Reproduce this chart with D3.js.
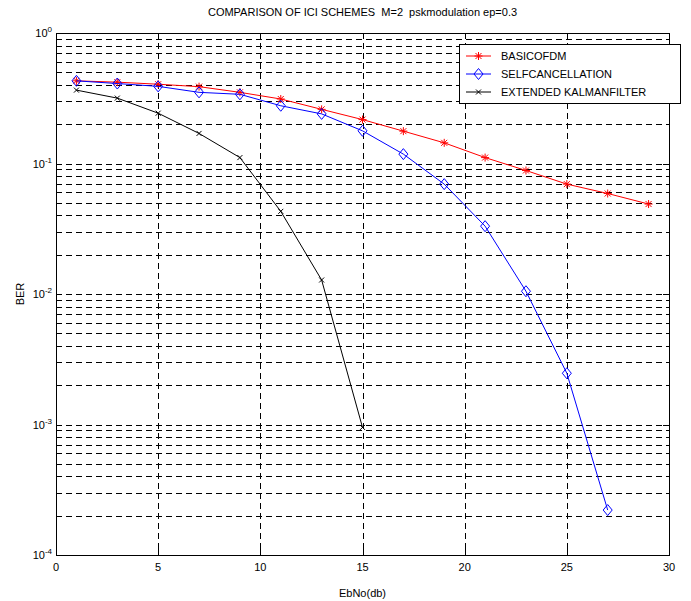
<!DOCTYPE html>
<html>
<head>
<meta charset="utf-8">
<script src="https://cdn.jsdelivr.net/npm/d3@7"></script>
<style>
  body { margin: 0; background: #fff; }
  text { font-family: "Liberation Sans", Arial, sans-serif; fill: #000; }
</style>
</head>
<body>
<svg id="chart" width="691" height="601"></svg>
<script>
// values
var ebno_basic = [1, 3, 5, 7, 9, 11, 13, 15, 17, 19, 21, 23, 25, 27, 29];
var ber_basic = [0.43, 0.42, 0.405, 0.388, 0.351, 0.312, 0.26, 0.217, 0.177, 0.144, 0.111, 0.0884, 0.0695, 0.0589, 0.0489];
var ebno_self = [1, 3, 5, 7, 9, 11, 13, 15, 17, 19, 21, 23, 25, 27];
var ber_self = [0.43, 0.41, 0.39, 0.351, 0.339, 0.277, 0.24, 0.178, 0.118, 0.0695, 0.0331, 0.0105, 0.00247, 0.000221];
var ebno_ekf = [1, 3, 5, 7, 9, 11, 13, 15];
var ber_ekf = [0.365, 0.317, 0.243, 0.170, 0.111, 0.043, 0.0128, 0.00095];
var xTicks = [0, 5, 10, 15, 20, 25, 30];
var yDecades = [1e-4, 1e-3, 1e-2, 1e-1, 1];
var legendNames = ["BASICOFDM", "SELFCANCELLATION", "EXTENDED KALMANFILTER"];

var L = 56, R = 669, T = 33, B = 555;
var svg = d3.select("#chart");
var x = d3.scaleLinear().domain([0, 30]).range([L, R]);
var y = d3.scaleLog().domain([1e-4, 1]).range([B, T]);

// grid
var minors = [];
yDecades.slice(0, 4).forEach(function(d) {
  for (var k = 1; k <= 9; k++) minors.push(d * k);
});
minors.push(1);
var grid = svg.append("g").attr("stroke", "#000").attr("stroke-width", 1)
  .attr("stroke-dasharray", "6,4");
grid.selectAll(".hg").data(minors.filter(function(v) { return v > 1e-4 && v < 1; }))
  .enter().append("line")
  .attr("x1", L).attr("x2", R)
  .attr("y1", function(d) { return Math.round(y(d)) + 0.5; })
  .attr("y2", function(d) { return Math.round(y(d)) + 0.5; });
grid.selectAll(".vg").data(xTicks.slice(1, -1))
  .enter().append("line")
  .attr("y1", T).attr("y2", B)
  .attr("x1", function(d) { return Math.round(x(d)) + 0.5; })
  .attr("x2", function(d) { return Math.round(x(d)) + 0.5; });

// ticks
var tk = svg.append("g").attr("stroke", "#000").attr("stroke-width", 1);
xTicks.forEach(function(d) {
  var px = Math.round(x(d)) + 0.5;
  tk.append("line").attr("x1", px).attr("x2", px).attr("y1", B).attr("y2", B - 6);
  tk.append("line").attr("x1", px).attr("x2", px).attr("y1", T).attr("y2", T + 6);
});
minors.forEach(function(d) {
  var py = Math.round(y(d)) + 0.5;
  var len = yDecades.indexOf(d) >= 0 ? 6 : 3;
  tk.append("line").attr("x1", L).attr("x2", L + len).attr("y1", py).attr("y2", py);
  tk.append("line").attr("x1", R).attr("x2", R - len).attr("y1", py).attr("y2", py);
});

// axes box
svg.append("rect").attr("x", L + 0.5).attr("y", T + 0.5)
  .attr("width", R - L).attr("height", B - T)
  .attr("fill", "none").attr("stroke", "#000").attr("stroke-width", 1);

// tick labels
svg.selectAll(".xl").data(xTicks).enter().append("text")
  .attr("x", function(d) { return x(d); }).attr("y", 571)
  .attr("text-anchor", "middle").style("font-size", "11px")
  .text(function(d) { return d; });
var yl = svg.selectAll(".yl").data(yDecades).enter().append("text")
  .attr("x", 52).attr("y", function(d) { return y(d) + 4; })
  .attr("text-anchor", "end").style("font-size", "11px");
yl.append("tspan").text("10");
yl.append("tspan").attr("dy", -5).style("font-size", "8px")
  .text(function(d) { var e = Math.round(Math.log10(d)); return e === 0 ? "0" : "-" + Math.abs(e); });

// labels
svg.append("text").attr("x", (L + R) / 2).attr("y", 16).attr("text-anchor", "middle")
  .style("font-size", "11px").text("COMPARISON OF ICI SCHEMES  M=2  pskmodulation ep=0.3")
  .attr("xml:space", "preserve");
svg.append("text").attr("x", (L + R) / 2).attr("y", 597).attr("text-anchor", "middle")
  .style("font-size", "11px").text("EbNo(db)");
svg.append("text").attr("transform", "translate(24," + (T + B) / 2 + ") rotate(-90)")
  .attr("text-anchor", "middle").style("font-size", "11px").text("BER");

// series
var series = [
  { xs: ebno_basic, ys: ber_basic, color: "#ff0000", marker: "star" },
  { xs: ebno_self, ys: ber_self, color: "#0000ff", marker: "diamond" },
  { xs: ebno_ekf, ys: ber_ekf, color: "#000000", marker: "x" }
];
function drawMarker(g, type, cx, cy, color) {
  if (type === "star") {
    var s = 4;
    g.append("path").attr("d",
      "M" + (cx - s) + "," + cy + "H" + (cx + s) +
      "M" + cx + "," + (cy - s) + "V" + (cy + s) +
      "M" + (cx - 3) + "," + (cy - 3) + "L" + (cx + 3) + "," + (cy + 3) +
      "M" + (cx - 3) + "," + (cy + 3) + "L" + (cx + 3) + "," + (cy - 3))
      .attr("stroke", color).attr("fill", "none").attr("stroke-width", 1);
  } else if (type === "diamond") {
    g.append("path").attr("d",
      "M" + cx + "," + (cy - 5.5) + "L" + (cx + 4.5) + "," + cy + "L" + cx + "," + (cy + 5.5) +
      "L" + (cx - 4.5) + "," + cy + "Z")
      .attr("stroke", color).attr("fill", "none").attr("stroke-width", 1);
  } else {
    var t = 2.5;
    g.append("path").attr("d",
      "M" + (cx - t) + "," + (cy - t) + "L" + (cx + t) + "," + (cy + t) +
      "M" + (cx - t) + "," + (cy + t) + "L" + (cx + t) + "," + (cy - t))
      .attr("stroke", color).attr("fill", "none").attr("stroke-width", 1);
  }
}
var line = d3.line().x(function(d) { return x(d[0]); }).y(function(d) { return y(d[1]); });
series.forEach(function(s) {
  var pts = s.xs.map(function(v, i) { return [v, s.ys[i]]; });
  var g = svg.append("g");
  g.append("path").attr("d", line(pts)).attr("fill", "none")
    .attr("stroke", s.color).attr("stroke-width", 1);
  pts.forEach(function(p) { drawMarker(g, s.marker, x(p[0]), y(p[1]), s.color); });
});

// legend
var lg = svg.append("g");
lg.append("rect").attr("x", 459.5).attr("y", 44.5).attr("width", 221).attr("height", 59)
  .attr("fill", "#fff").attr("stroke", "#000").attr("stroke-width", 1);
series.forEach(function(s, i) {
  var ly = 56 + i * 18;
  lg.append("line").attr("x1", 466).attr("x2", 491).attr("y1", ly).attr("y2", ly)
    .attr("stroke", s.color).attr("stroke-width", 1);
  drawMarker(lg, s.marker, 478.5, ly, s.color);
  lg.append("text").attr("x", 501).attr("y", ly + 4).style("font-size", "11px")
    .text(legendNames[i]);
});
</script>
</body>
</html>
